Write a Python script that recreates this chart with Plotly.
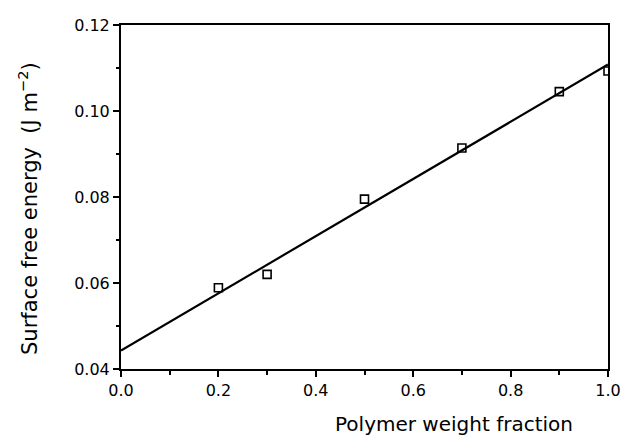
import plotly.graph_objects as go

# Data
polymer_fraction = [0.2, 0.3, 0.5, 0.7, 0.9, 1.0]
surface_energy = [0.0589, 0.0620, 0.0795, 0.0914, 0.1045, 0.1093]

fit_x = [0.0, 1.0]
fit_y = [0.0443, 0.1108]

x_ticks = [0.0, 0.2, 0.4, 0.6, 0.8, 1.0]
x_ticklabels = ["0.0", "0.2", "0.4", "0.6", "0.8", "1.0"]
y_ticks = [0.04, 0.06, 0.08, 0.10, 0.12]
y_ticklabels = ["0.04", "0.06", "0.08", "0.10", "0.12"]

FONT = "DejaVu Sans, sans-serif"

W, H = 633, 438
L, R, T, B = 121, 20, 25, 69
PW, PH = W - L - R, H - T - B

fig = go.Figure()
fig.add_trace(go.Scatter(x=fit_x, y=fit_y, mode="lines",
                         line=dict(color="black", width=2.2),
                         showlegend=False, hoverinfo="skip"))
fig.add_trace(go.Scatter(x=polymer_fraction, y=surface_energy, mode="markers",
                         marker=dict(symbol="square-open", size=8, color="black",
                                     line=dict(width=1.6, color="black")),
                         showlegend=False))

fig.update_layout(
    width=W, height=H,
    margin=dict(l=L, r=R, t=T, b=B),
    paper_bgcolor="white", plot_bgcolor="white",
    font=dict(family=FONT, size=16, color="black"),
    xaxis=dict(range=[0, 1.0], tickvals=x_ticks, ticktext=x_ticklabels,
               ticks="outside", ticklen=6, tickwidth=1.5, tickcolor="black",
               minor=dict(dtick=0.1, ticks="outside", ticklen=4, tickwidth=1.5, tickcolor="black"),
               showline=True, linecolor="black", linewidth=2, mirror=True,
               showgrid=False, zeroline=False,
               tickfont=dict(family=FONT, size=16, color="black")),
    yaxis=dict(range=[0.04, 0.12], tickvals=y_ticks, ticktext=y_ticklabels,
               ticks="outside", ticklen=6, tickwidth=1.5, tickcolor="black",
               minor=dict(dtick=0.01, ticks="outside", ticklen=3, tickwidth=1.5, tickcolor="black"),
               showline=True, linecolor="black", linewidth=2, mirror=True,
               showgrid=False, zeroline=False,
               tickfont=dict(family=FONT, size=16, color="black")),
    annotations=[
        dict(text="Polymer weight fraction", xref="paper", yref="paper",
             x=(457 - L) / PW, y=-(424 - (H - B)) / PH,
             xanchor="center", yanchor="middle", showarrow=False,
             font=dict(family=FONT, size=20, color="black")),
        dict(text="Surface free energy  (J m<sup>\u22122</sup>)", xref="paper", yref="paper",
             x=(27 - L) / PW, y=((H - B) - 208) / PH,
             xanchor="center", yanchor="middle", textangle=-90, showarrow=False,
             font=dict(family=FONT, size=21, color="black")),
    ],
)

fig.write_html("out.html", config={"displayModeBar": False},
               post_script="document.body.style.margin='0';document.body.style.overflow='hidden';")
